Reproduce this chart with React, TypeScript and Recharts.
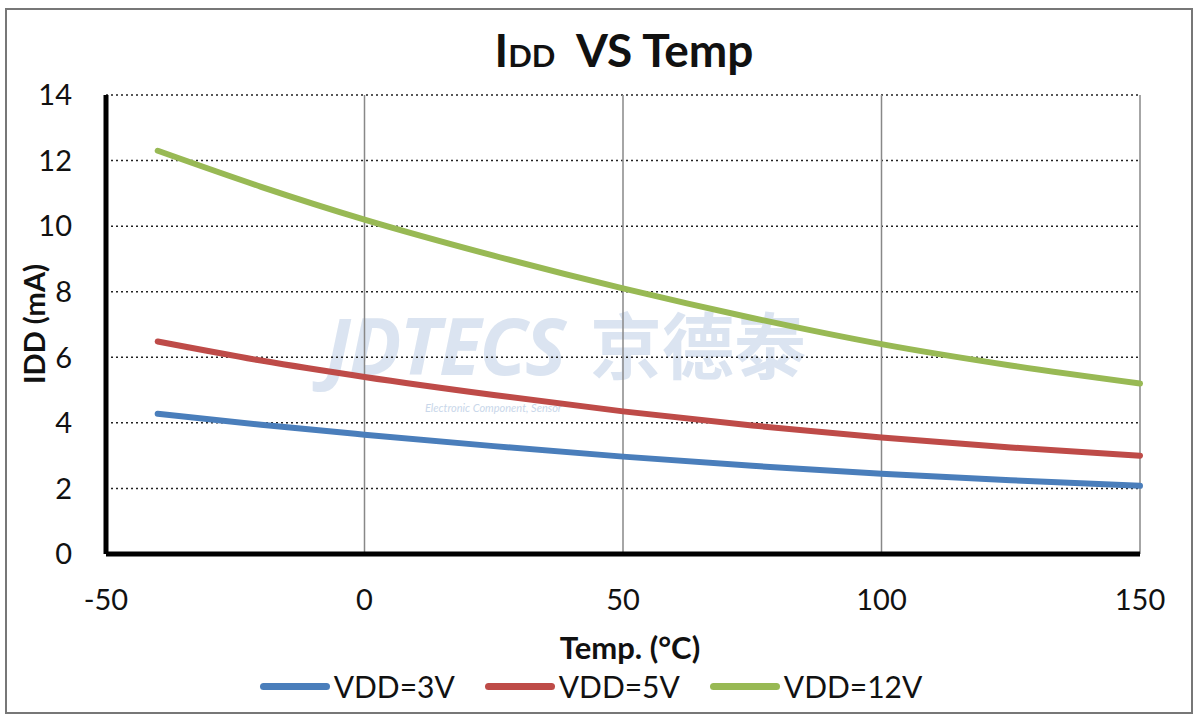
import React from 'react';
import { LineChart, Line, XAxis, YAxis, CartesianGrid } from 'recharts';

const temps = [-40, -20, 0, 25, 50, 75, 100, 125, 150];
const vdd3 = [4.28, 3.94, 3.64, 3.29, 2.97, 2.69, 2.45, 2.25, 2.08];
const vdd5 = [6.48, 5.9, 5.4, 4.85, 4.35, 3.92, 3.55, 3.25, 3.0];
const vdd12 = [12.3, 11.2, 10.2, 9.1, 8.1, 7.2, 6.4, 5.75, 5.2];

const xTicks = [-50, 0, 50, 100, 150];
const yTicks = [0, 2, 4, 6, 8, 10, 12, 14];

const series = [
  { key: 'v3', name: 'VDD=3V', color: '#4a7ebb' },
  { key: 'v5', name: 'VDD=5V', color: '#be4b48' },
  { key: 'v12', name: 'VDD=12V', color: '#98b954' },
];

const data = temps.map((t, i) => ({ t, v3: vdd3[i], v5: vdd5[i], v12: vdd12[i] }));

const font = 'Lato, "Open Sans", sans-serif';

const App: React.FC = () => (
  <div style={{ position: 'absolute', left: 0, top: 0, width: 1200, height: 718, background: '#fff', fontFamily: font }}>
    <div style={{ position: 'absolute', left: 5, top: 8, width: 1188, height: 706, border: '2px solid #777', boxSizing: 'border-box' }} />
    <div style={{ position: 'absolute', left: 0, width: 1248, top: 22, textAlign: 'center', fontWeight: 700, fontSize: 46, color: '#111' }}>
      I<span style={{ fontSize: 31 }}>DD</span>&nbsp;&nbsp;VS Temp
    </div>
    {/* faint watermark */}
    <div style={{ position: 'absolute', left: 325, top: 306, height: 78, fontSize: 78, lineHeight: 1, fontStyle: 'italic', fontWeight: 700, color: '#c9d7ea', opacity: 0.65, fontFamily: '"Open Sans", sans-serif', letterSpacing: -2, whiteSpace: 'nowrap' }}>
      JDTECS
    </div>
    <div style={{ position: 'absolute', left: 590, top: 306, height: 78, fontSize: 72, lineHeight: 1, fontWeight: 700, color: '#c9d7ea', opacity: 0.65, fontFamily: '"Noto Sans CJK SC", sans-serif', whiteSpace: 'nowrap' }}>
      京德泰
    </div>
    <div style={{ position: 'absolute', left: 425, top: 402, fontSize: 11, lineHeight: 1, fontStyle: 'italic', color: '#c9d7ea', whiteSpace: 'nowrap' }}>
      Electronic Component, Sensor
    </div>
    <div style={{ position: 'absolute', left: 0, top: 0 }}>
      <LineChart width={1200} height={718} data={data} margin={{ top: 95, right: 60, left: 0, bottom: 104 }}>
        <CartesianGrid vertical={false} stroke="#222" strokeDasharray="2 3" strokeWidth={1.5} />
        <CartesianGrid horizontal={false} stroke="#888" strokeWidth={1.5} />
        <XAxis
          dataKey="t"
          type="number"
          domain={[-50, 150]}
          ticks={xTicks}
          tickLine={false}
          tickSize={0}
          tickMargin={35}
          axisLine={{ stroke: '#000', strokeWidth: 5 }}
          height={60}
          tick={{ fontSize: 29, fill: '#111', fontFamily: font }}
        />
        <YAxis
          type="number"
          domain={[0, 14]}
          ticks={yTicks}
          interval={0}
          tickLine={false}
          tickSize={0}
          tickMargin={34}
          axisLine={{ stroke: '#000', strokeWidth: 5 }}
          width={106}
          tick={{ fontSize: 29, fill: '#111', fontFamily: font }}
        />
        {series.map((s) => (
          <Line
            key={s.key}
            dataKey={s.key}
            name={s.name}
            type="monotone"
            stroke={s.color}
            strokeWidth={6}
            strokeLinecap="round"
            dot={false}
            isAnimationActive={false}
          />
        ))}
      </LineChart>
    </div>
    <div style={{ position: 'absolute', left: 33, top: 324, transform: 'translate(-50%, -50%) rotate(-90deg)', fontWeight: 700, fontSize: 29, whiteSpace: 'nowrap', color: '#111' }}>
      IDD (mA)
    </div>
    <div style={{ position: 'absolute', left: 0, width: 1260, top: 628, textAlign: 'center', fontWeight: 700, fontSize: 31, color: '#111' }}>
      Temp. (°C)
    </div>
    <div style={{ position: 'absolute', left: 0, width: 1182, top: 668, display: 'flex', justifyContent: 'center', gap: 30, fontSize: 30, color: '#111' }}>
      {series.map((s) => (
        <div key={s.key} style={{ display: 'flex', alignItems: 'center' }}>
          <span style={{ display: 'inline-block', width: 70, height: 7, borderRadius: 4, background: s.color, marginRight: 4 }} />
          <span>{s.name}</span>
        </div>
      ))}
    </div>
  </div>
);

export default App;
